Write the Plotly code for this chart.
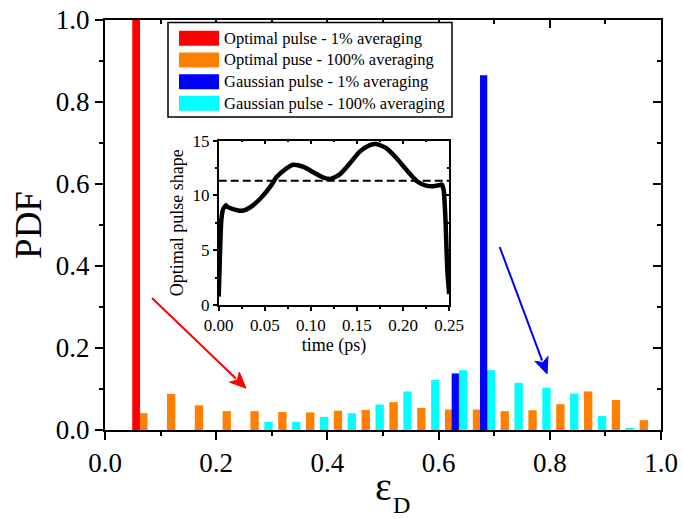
import math
import plotly.graph_objects as go

FONT = "Liberation Serif"

# ---------------- data ----------------
red_x = [0.056]
red_y = [1.0]

orange_x = [0.069, 0.119, 0.169, 0.219, 0.269, 0.319, 0.369, 0.419, 0.469, 0.519,
            0.569, 0.619, 0.669, 0.719, 0.769, 0.819, 0.869, 0.919, 0.969]
orange_y = [0.041, 0.088, 0.060, 0.046, 0.046, 0.044, 0.043, 0.047, 0.049, 0.068,
            0.054, 0.050, 0.050, 0.046, 0.048, 0.063, 0.094, 0.073, 0.024]

blue_x = [0.630, 0.681]
blue_y = [0.138, 0.865]

cyan_x = [0.294, 0.344, 0.394, 0.444, 0.494, 0.544, 0.594, 0.644, 0.694, 0.744,
          0.794, 0.844, 0.894, 0.944]
cyan_y = [0.020, 0.020, 0.032, 0.041, 0.062, 0.094, 0.122, 0.146, 0.146, 0.115,
          0.103, 0.089, 0.034, 0.004]

# inset: optimal pulse shape
pulse_t = [0.0, 0.0014, 0.0029, 0.005, 0.008, 0.0087, 0.014, 0.025, 0.034, 0.045,
           0.056, 0.063, 0.074, 0.081, 0.092, 0.103, 0.113, 0.121, 0.131, 0.142,
           0.153, 0.164, 0.171, 0.182, 0.193, 0.204, 0.215, 0.225, 0.233, 0.240,
           0.242, 0.244, 0.246, 0.248, 0.25]
pulse_v = [0.76, 4.7, 7.8, 8.8, 9.1, 9.0, 8.8, 8.6, 8.9, 9.7,
           10.8, 11.7, 12.5, 12.8, 12.6, 12.1, 11.65, 11.5, 11.9, 12.9,
           14.0, 14.6, 14.7, 14.3, 13.4, 12.3, 11.3, 10.9, 10.85, 10.95,
           11.0, 10.5, 7.8, 3.2, 1.0]
mean_t = [0.0, 0.25]
mean_v = [11.35, 11.35]

# legend entries (in reference order)
legend_names = ["Optimal pulse - 1% averaging", "Optimal puse - 100% averaging",
                "Gaussian pulse - 1% averaging", "Gaussian pulse - 100% averaging"]
legend_colors = ["#ff0000", "#ff8000", "#0000ff", "#00ffff"]

# arrows (tail -> head) in data coords
arrows = [((0.0845, 0.322), (0.2536, 0.102), "#ff0000"),
          ((0.710, 0.446), (0.795, 0.137), "#0000ff")]

# ---------------- geometry ----------------
W, H = 683, 519
ML, MR, MT, MB = 105, 22, 20, 89
PW, PH = W - ML - MR, H - MT - MB

def px2paper(px, py):
    return (px - ML) / PW, (H - MB - py) / PH

# ---------------- figure ----------------
fig = go.Figure()

fig.add_trace(go.Bar(x=orange_x, y=orange_y, width=0.015, marker_color=legend_colors[1],
                     marker_line_width=0, name=legend_names[1], showlegend=False))
fig.add_trace(go.Bar(x=cyan_x, y=cyan_y, width=0.015, marker_color=legend_colors[3],
                     marker_line_width=0, name=legend_names[3], showlegend=False))
fig.add_trace(go.Bar(x=red_x, y=red_y, width=0.014, marker_color=legend_colors[0],
                     marker_line_width=0, name=legend_names[0], showlegend=False))
fig.add_trace(go.Bar(x=blue_x, y=blue_y, width=0.013, marker_color=legend_colors[2],
                     marker_line_width=0, name=legend_names[2], showlegend=False))

# dummy traces for mirror axes
fig.add_trace(go.Scatter(x=[None], y=[None], xaxis="x2", yaxis="y2", mode="lines",
                         showlegend=False, hoverinfo="skip"))
fig.add_trace(go.Scatter(x=[None], y=[None], xaxis="x4", yaxis="y4", mode="lines",
                         showlegend=False, hoverinfo="skip"))

# inset
fig.add_trace(go.Scatter(x=mean_t, y=mean_v, xaxis="x3", yaxis="y3", mode="lines",
                         line=dict(color="black", width=2, dash="8px,4px"),
                         showlegend=False))
fig.add_trace(go.Scatter(x=pulse_t, y=pulse_v, xaxis="x3", yaxis="y3", mode="lines",
                         line=dict(color="black", width=4.5, shape="spline", smoothing=0.6),
                         showlegend=False))

tickfont = dict(family=FONT, size=27, color="black")
axcommon = dict(showgrid=False, zeroline=False, showline=True, linecolor="black",
                linewidth=2, tickcolor="black", tickwidth=2, automargin=False)

# inset domain
ix = [0.2045, 0.619]
iy = [0.305, 0.7056]
insfont = dict(family=FONT, size=17, color="black")
inscommon = dict(showgrid=False, zeroline=False, showline=True, linecolor="black",
                 linewidth=1.5, tickcolor="black", tickwidth=1.5, automargin=False)

fig.update_layout(
    width=W, height=H,
    margin=dict(l=ML, r=MR, t=MT, b=MB, autoexpand=False),
    paper_bgcolor="white", plot_bgcolor="white",
    barmode="overlay",
    font=dict(family=FONT, color="black"),
    showlegend=False,
    xaxis=dict(range=[0, 1], dtick=0.2, tickformat=".1f", ticks="outside", ticklen=8,
               tickfont=tickfont,
               minor=dict(dtick=0.1, ticks="outside", ticklen=4, tickcolor="black", tickwidth=2),
               **axcommon),
    yaxis=dict(range=[0, 1], dtick=0.2, tickformat=".1f", ticks="outside", ticklen=8,
               tickfont=tickfont,
               minor=dict(dtick=0.1, ticks="outside", ticklen=4, tickcolor="black", tickwidth=2),
               title=dict(text="PDF", font=dict(family=FONT, size=37), standoff=3),
               **axcommon),
    xaxis2=dict(range=[0, 1], overlaying="x", side="top", anchor="y", dtick=0.2,
                ticks="inside", ticklen=8, showticklabels=False,
                minor=dict(dtick=0.1, ticks="inside", ticklen=4, tickcolor="black", tickwidth=2),
                **axcommon),
    yaxis2=dict(range=[0, 1], overlaying="y", side="right", anchor="x2", dtick=0.2,
                ticks="inside", ticklen=8, showticklabels=False,
                minor=dict(dtick=0.1, ticks="inside", ticklen=4, tickcolor="black", tickwidth=2),
                **axcommon),
    xaxis3=dict(domain=ix, anchor="y3", range=[0, 0.25], dtick=0.05, tickformat=".2f",
                ticks="outside", ticklen=4, tickfont=insfont,
                minor=dict(dtick=0.025, ticks="outside", ticklen=2, tickcolor="black", tickwidth=1.5),
                title=dict(text="time (ps)", font=dict(family=FONT, size=18), standoff=2),
                **inscommon),
    yaxis3=dict(domain=iy, anchor="x3", range=[0, 15], dtick=5,
                ticks="outside", ticklen=4, tickfont=insfont,
                minor=dict(dtick=2.5, ticks="outside", ticklen=2, tickcolor="black", tickwidth=1.5),
                title=dict(text="Optimal pulse shape", font=dict(family=FONT, size=18), standoff=4),
                **inscommon),
    xaxis4=dict(domain=ix, anchor="y4", overlaying="x3", side="top", range=[0, 0.25], dtick=0.05,
                ticks="inside", ticklen=4, showticklabels=False,
                minor=dict(dtick=0.025, ticks="inside", ticklen=2, tickcolor="black", tickwidth=1.5),
                **inscommon),
    yaxis4=dict(domain=iy, anchor="x4", overlaying="y3", side="right", range=[0, 15], dtick=5,
                ticks="inside", ticklen=4, showticklabels=False,
                minor=dict(dtick=2.5, ticks="inside", ticklen=2, tickcolor="black", tickwidth=1.5),
                **inscommon),
)

# ---------------- x-axis title: epsilon with subscript D ----------------
ex, ey = px2paper(383, 486)
fig.add_annotation(x=ex, y=ey, xref="paper", yref="paper", text="ε", showarrow=False,
                   xanchor="center", yanchor="middle",
                   font=dict(family=FONT, size=40, color="black"))
dx_, dy_ = px2paper(401, 505)
fig.add_annotation(x=dx_, y=dy_, xref="paper", yref="paper", text="D", showarrow=False,
                   xanchor="center", yanchor="middle",
                   font=dict(family=FONT, size=24, color="black"))

# ---------------- custom legend (wide swatches, as in the reference) ----------------
bx0, by0 = px2paper(168, 22.5)
bx1, by1 = px2paper(452, 117)
fig.add_shape(type="rect", xref="paper", yref="paper", x0=bx0, y0=by1, x1=bx1, y1=by0,
              line=dict(color="black", width=1.5), fillcolor="white", layer="above")
row_py = [38.3, 60.0, 81.7, 103.3]
for name, col, py in zip(legend_names, legend_colors, row_py):
    sx0, sy0 = px2paper(179, py - 7.5)
    sx1, sy1 = px2paper(219, py + 7.5)
    fig.add_shape(type="rect", xref="paper", yref="paper", x0=sx0, y0=sy1, x1=sx1, y1=sy0,
                  line=dict(width=0), fillcolor=col, layer="above")
    tx, ty = px2paper(222, py)
    fig.add_annotation(x=tx, y=ty, xref="paper", yref="paper", text=name, showarrow=False,
                       xanchor="left", yanchor="middle",
                       font=dict(family=FONT, size=16.5, color="black"))

# ---------------- arrows (line + filled head) ----------------
toX = lambda p: (p - ML) / PW
toY = lambda p: 1 - (p - MT) / PH
for (tx_, ty_), (hx_, hy_), col in arrows:
    tpx, tpy = ML + tx_ * PW, MT + (1 - ty_) * PH
    hpx, hpy = ML + hx_ * PW, MT + (1 - hy_) * PH
    ddx, ddy = hpx - tpx, hpy - tpy
    L = math.hypot(ddx, ddy)
    ux, uy = ddx / L, ddy / L
    hl, hw = 16.0, 7.0
    bpx, bpy = hpx - ux * hl, hpy - uy * hl
    lpx, lpy = bpx - uy * hw, bpy + ux * hw
    rpx, rpy = bpx + uy * hw, bpy - ux * hw
    fig.add_shape(type="line", xref="x", yref="y", x0=tx_, y0=ty_,
                  x1=toX(bpx + ux * 2), y1=toY(bpy + uy * 2),
                  line=dict(color=col, width=2))
    fig.add_shape(type="path", xref="x", yref="y",
                  path=(f"M{toX(hpx)},{toY(hpy)} L{toX(lpx)},{toY(lpy)} "
                        f"L{toX(bpx + ux * 4)},{toY(bpy + uy * 4)} L{toX(rpx)},{toY(rpy)} Z"),
                  fillcolor=col, line=dict(color=col, width=1))

fig.write_html("out.html")
